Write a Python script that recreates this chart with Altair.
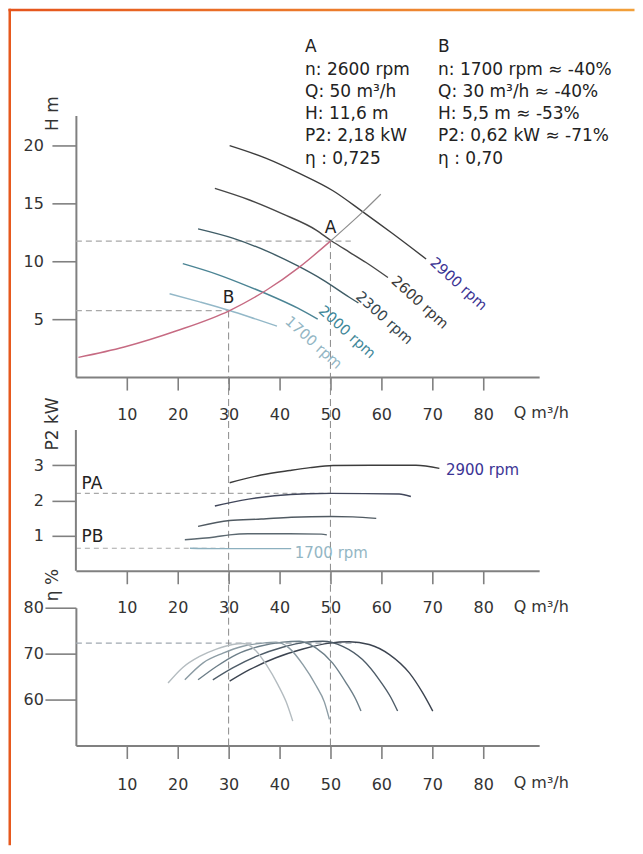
import altair as alt
import pandas as pd

FONT = "DejaVu Sans"
INK = "#333333"
AXIS_GRAY = "#808080"

RPMS = ["2900", "2600", "2300", "2000", "1700"]

# ---------------- H-Q curves (m) ----------------
HQ_Q_2900 = [30.2, 37.4, 43.9, 50.5, 56.3, 62.2, 68.8]
HQ_H_2900 = [20.0, 18.9, 17.6, 16.1, 14.3, 12.4, 10.2]
HQ_Q_2600 = [27.3, 34.1, 40.6, 47.2, 50.1, 53.7, 57.0, 61.3]
HQ_H_2600 = [16.3, 15.3, 14.1, 12.7, 11.8, 10.8, 9.9, 8.6]
HQ_Q_2300 = [24.0, 30.8, 37.4, 43.6, 48.5, 53.7, 55.5]
HQ_H_2300 = [12.8, 12.0, 10.9, 9.6, 8.4, 6.9, 6.4]
HQ_Q_2000 = [21.0, 27.6, 34.1, 37.4, 43.6, 47.5]
HQ_H_2000 = [9.8, 8.9, 7.8, 7.2, 5.95, 5.0]
HQ_Q_1700 = [18.4, 24.3, 30.2, 35.4, 39.5]
HQ_H_1700 = [7.2, 6.5, 5.75, 5.0, 4.4]

# system curve
SYS_Q = [0.5, 9.5, 19.8, 30.2, 37.4, 43.9, 50.0]
SYS_H = [1.7, 2.6, 4.0, 5.75, 7.5, 9.5, 11.75]
SYS_Q_UP = [50.0, 56.3, 59.9]
SYS_H_UP = [11.75, 14.25, 15.8]

# operating points
PT_NAMES = ["A", "B"]
PT_Q = [50, 30]
PT_H = [11.75, 5.75]
PT_P = [2.2, 0.64]
PT_ETA = 72.3

# rpm label anchors on H panel
LAB_Q = [75.1, 67.5, 60.5, 53.2, 46.6]
LAB_H = [8.0, 6.4, 5.06, 3.84, 2.93]

# ---------------- P2-Q curves (kW) ----------------
PQ_Q_2900 = [30.2, 36.4, 42.0, 46.0, 50.5, 58.0, 66.8, 71.4]
PQ_P_2900 = [2.50, 2.72, 2.85, 2.93, 2.99, 3.0, 3.0, 2.91]
PQ_Q_2600 = [27.3, 32.5, 39.0, 45.5, 50.1, 63.5, 65.8]
PQ_P_2600 = [1.84, 2.0, 2.13, 2.19, 2.2, 2.18, 2.11]
PQ_Q_2300 = [24.0, 30.2, 36.4, 42.3, 50.1, 54.4, 59.0]
PQ_P_2300 = [1.26, 1.43, 1.47, 1.52, 1.54, 1.53, 1.49]
PQ_Q_2000 = [21.4, 27.3, 30.2, 33.8, 42.0, 48.2, 49.3]
PQ_P_2000 = [0.88, 0.96, 1.02, 1.05, 1.05, 1.04, 1.02]
PQ_Q_1700 = [22.4, 27.3, 35.0, 42.3]
PQ_P_1700 = [0.64, 0.63, 0.63, 0.63]

# ---------------- efficiency curves (%) ----------------
EQ_Q_1700 = [18.1, 21.0, 24.3, 27.6, 30.8, 32.8, 35.4, 37.4, 39.7, 41.3, 42.6]
EQ_E_1700 = [63.6, 67.0, 69.4, 71.0, 72.0, 72.2, 70.6, 67.6, 63.2, 59.5, 55.3]
EQ_Q_2000 = [21.4, 25.0, 28.9, 32.8, 36.7, 39.3, 41.9, 44.6, 47.2, 48.8, 49.8]
EQ_E_2000 = [64.3, 68.0, 70.1, 71.6, 72.3, 72.5, 71.2, 67.6, 63.0, 59.5, 55.7]
EQ_Q_2300 = [24.0, 27.6, 31.5, 36.1, 40.6, 43.9, 47.2, 50.4, 53.1, 55.0, 56.0]
EQ_E_2300 = [64.3, 67.2, 69.8, 71.6, 72.5, 72.7, 71.2, 68.0, 63.6, 60.0, 57.5]
EQ_Q_2600 = [26.9, 30.8, 35.4, 40.6, 45.2, 48.5, 52.4, 56.3, 59.6, 61.9, 63.2]
EQ_E_2600 = [64.3, 66.9, 69.4, 71.4, 72.5, 72.7, 71.6, 68.7, 64.3, 60.4, 57.5]
EQ_Q_2900 = [30.2, 34.1, 39.3, 44.6, 49.8, 53.7, 57.6, 61.6, 65.5, 68.1, 70.1]
EQ_E_2900 = [64.0, 66.5, 69.1, 71.0, 72.3, 72.6, 72.0, 69.8, 65.8, 61.5, 57.5]

X_TICKS = [10, 20, 30, 40, 50, 60, 70, 80]
H_TICKS = [5, 10, 15, 20]
P_TICKS = [1, 2, 3]
E_TICKS = [60, 70, 80]

A_LINES = ["A", "n: 2600 rpm", "Q: 50 m³/h", "H: 11,6 m", "P2: 2,18 kW", "η : 0,725"]
B_LINES = ["B", "n: 1700 rpm ≈ -40%", "Q: 30 m³/h ≈ -40%", "H: 5,5 m ≈ -53%",
           "P2: 0,62 kW ≈ -71%", "η : 0,70"]

# ---------------- styles ----------------
H_LINE_COLORS = ["#3d3d3d", "#474747", "#3f5c66", "#4b8494", "#93b8c8"]
H_LABEL_COLORS = ["#3b3494", "#3a3a3a", "#37474f", "#3f8799", "#93b6c4"]
P_LINE_COLORS = ["#3c3c3c", "#40465a", "#505a62", "#5b6870", "#8cb0bf"]
E_LINE_COLORS = ["#3c4450", "#4e5c68", "#6c7e88", "#8c9ca4", "#b4bcc0"]

W = 464
H1, H2, H3 = 262, 157, 138
GAP = 37
Q_DOMAIN = [0, 91]
H_DOMAIN = [0, 22.6]
P_TOP = 4.0
P_DOMAIN = [0, P_TOP + 16 / 35.25]
E_DOMAIN = [50, 80]

xscale = alt.Scale(domain=Q_DOMAIN, nice=False, zero=False)


def make_xaxis(pad):
    return alt.Axis(values=X_TICKS, title=None, grid=False, format="d", labelAngle=0,
                    tickSize=13, tickWidth=1.6, tickColor=AXIS_GRAY,
                    domainColor=AXIS_GRAY, domainWidth=2,
                    labelFont=FONT, labelFontSize=16, labelColor=INK, labelPadding=pad)


XA12 = make_xaxis(16)
XA3 = make_xaxis(18)


def X(f="Q", ax=XA12):
    return alt.X(f"{f}:Q", scale=xscale, axis=ax)


def yaxis(values, title, title_y, tick=24, pad=8.5, domain=True):
    return alt.Axis(values=values, title=title, grid=False, domain=domain,
                    domainColor=AXIS_GRAY, domainWidth=2,
                    tickSize=tick, tickWidth=1.6, tickColor=AXIS_GRAY,
                    labelFont=FONT, labelFontSize=16, labelColor=INK, labelPadding=pad,
                    titleFont=FONT, titleFontSize=17, titleFontWeight="normal",
                    titleColor=INK, titleAngle=270, titleAlign="left",
                    titleBaseline="middle", titleX=-23.3, titleY=title_y)


ys1 = alt.Scale(domain=H_DOMAIN, nice=False, zero=False)
ya1 = yaxis(H_TICKS, "H m", 15)
ys2 = alt.Scale(domain=P_DOMAIN, nice=False, zero=False)
ya2 = yaxis(P_TICKS, "P2 kW", 36, domain=False)
ys3 = alt.Scale(domain=E_DOMAIN, nice=False, zero=False)
ya3 = yaxis(E_TICKS, "η %", -7, tick=31, pad=1.5)


def Y1(f):
    return alt.Y(f"{f}:Q", scale=ys1, axis=ya1)


def Y2(f):
    return alt.Y(f"{f}:Q", scale=ys2, axis=ya2)


def Y3(f):
    return alt.Y(f"{f}:Q", scale=ys3, axis=ya3)


def curves_df(qs, vs, colors):
    rows = []
    for rpm, q, v, c in zip(RPMS, qs, vs, colors):
        for qi, vi in zip(q, v):
            rows.append({"rpm": rpm, "Q": qi, "V": vi, "c": c})
    return pd.DataFrame(rows)


one = alt.Data(values=[{}])

# ================= panel 1 : H =================
df_h = curves_df([HQ_Q_2900, HQ_Q_2600, HQ_Q_2300, HQ_Q_2000, HQ_Q_1700],
                 [HQ_H_2900, HQ_H_2600, HQ_H_2300, HQ_H_2000, HQ_H_1700], H_LINE_COLORS)
df_pts = pd.DataFrame({"name": PT_NAMES, "Q": PT_Q, "H": PT_H, "P": PT_P,
                       "zero": [0, 0]})

h_ref = alt.Chart(df_pts).mark_rule(color="#a8a8a8", strokeWidth=1.2, strokeDash=[6, 4]).encode(
    x=X("zero"), x2=alt.X2("xe:Q"), y=Y1("H")
).transform_calculate(xe="datum.Q + (datum.name == 'A' ? 4 : 0)")
v_ref1 = alt.Chart(df_pts).mark_rule(color="#8a8a8a", strokeWidth=1, strokeDash=[7, 4]).encode(
    x=X("Q"), y=Y1("H"), y2=alt.Y2("zero:Q"))

h_curves = alt.Chart(df_h).mark_line(strokeWidth=1.4, interpolate="monotone").encode(
    x=X("Q"), y=Y1("V"), color=alt.Color("c:N", scale=None), detail="rpm:N")

sys_red = alt.Chart(pd.DataFrame({"Q": SYS_Q, "H": SYS_H})).mark_line(
    color="#c66a82", strokeWidth=1.4, interpolate="monotone").encode(x=X("Q"), y=Y1("H"))
sys_up = alt.Chart(pd.DataFrame({"Q": SYS_Q_UP, "H": SYS_H_UP})).mark_line(
    color="#8e8e8e", strokeWidth=1.2, interpolate="monotone").encode(x=X("Q"), y=Y1("H"))

df_lab = pd.DataFrame({"Q": LAB_Q, "H": LAB_H, "t": [r + " rpm" for r in RPMS],
                       "c": H_LABEL_COLORS})
h_labels = alt.Chart(df_lab).mark_text(angle=42, font=FONT, fontSize=14.5,
                                       align="center", baseline="middle").encode(
    x=X("Q"), y=Y1("H"), text="t:N", color=alt.Color("c:N", scale=None))

pt_labels = alt.Chart(df_pts).mark_text(font=FONT, fontSize=17, color="#222",
                                        align="center", baseline="bottom", dy=-4).encode(
    x=X("Q"), y=Y1("H"), text="name:N")

txt_a = alt.Chart(one).mark_text(text=A_LINES, align="left", baseline="top", font=FONT,
                                 fontSize=17, lineHeight=22.3, color="#222").encode(
    x=alt.value(229.5), y=alt.value(-76.3))
txt_b = alt.Chart(one).mark_text(text=B_LINES, align="left", baseline="top", font=FONT,
                                 fontSize=17, lineHeight=22.3, color="#222").encode(
    x=alt.value(362.8), y=alt.value(-76.3))


def q_unit(h, ax=XA12, off=36):
    return alt.Chart(pd.DataFrame({"Q": [86]})).mark_text(
        text="Q m³/h", align="left", baseline="middle", font=FONT, fontSize=16,
        color=INK).encode(x=X("Q", ax), y=alt.value(h + off))


frame_left = alt.Chart(one).mark_rect(fill="#e6581d").encode(
    x=alt.value(-67.5), x2=alt.value(-65), y=alt.value(-107), y2=alt.value(731))
frame_top = alt.Chart(one).mark_rect(
    fill=alt.Gradient(gradient="linear", x1=0, x2=1, y1=0, y2=0,
                      stops=[alt.GradientStop(color="#e5541c", offset=0),
                             alt.GradientStop(color="#f2a03a", offset=1)])).encode(
    x=alt.value(-67.5), x2=alt.value(559.5), y=alt.value(-107), y2=alt.value(-104.3))

p1 = alt.layer(h_ref, v_ref1, h_curves, sys_red, sys_up, h_labels, pt_labels,
               txt_a, txt_b, q_unit(H1), frame_left, frame_top).properties(width=W, height=H1)

# ================= panel 2 : P2 =================
df_p = curves_df([PQ_Q_2900, PQ_Q_2600, PQ_Q_2300, PQ_Q_2000, PQ_Q_1700],
                 [PQ_P_2900, PQ_P_2600, PQ_P_2300, PQ_P_2000, PQ_P_1700], P_LINE_COLORS)
p_up = P_DOMAIN[1] + GAP / (H2 / (P_DOMAIN[1] - P_DOMAIN[0]))

p_ref = alt.Chart(df_pts).mark_rule(color="#a8a8a8", strokeWidth=1.2, strokeDash=[5, 4]).encode(
    x=X("zero"), x2=alt.X2("Q:Q"), y=Y2("P"))
v_ref2 = alt.Chart(df_pts).mark_rule(color="#8a8a8a", strokeWidth=1, strokeDash=[7, 4]).encode(
    x=X("Q"), y=Y2("zero"), y2=alt.Y2("top:Q")).transform_calculate(top=str(p_up))
p_axis = alt.Chart(pd.DataFrame({"a": [0], "b": [P_TOP]})).mark_rule(
    color=AXIS_GRAY, strokeWidth=2).encode(x=alt.value(0), y=Y2("a"), y2=alt.Y2("b:Q"))
p_curves = alt.Chart(df_p).mark_line(strokeWidth=1.4, interpolate="monotone").encode(
    x=X("Q"), y=Y2("V"), color=alt.Color("c:N", scale=None), detail="rpm:N")
p_pt_lab = alt.Chart(pd.DataFrame({"t": ["PA", "PB"], "Q": [1.1, 1.1], "P": [2.47, 0.97]})).mark_text(
    font=FONT, fontSize=17, color="#222", align="left", baseline="middle").encode(
    x=X("Q"), y=Y2("P"), text="t:N")
p_rpm = alt.Chart(pd.DataFrame({"t": ["2900 rpm", "1700 rpm"], "Q": [72.7, 43.0],
                                "P": [2.87, 0.51], "c": ["#3b3494", "#93b6c4"]})).mark_text(
    font=FONT, fontSize=15, align="left", baseline="middle").encode(
    x=X("Q"), y=Y2("P"), text="t:N", color=alt.Color("c:N", scale=None))

p2 = alt.layer(p_ref, v_ref2, p_axis, p_curves, p_pt_lab, p_rpm, q_unit(H2)).properties(
    width=W, height=H2)

# ================= panel 3 : efficiency =================
df_e = curves_df([EQ_Q_2900, EQ_Q_2600, EQ_Q_2300, EQ_Q_2000, EQ_Q_1700],
                 [EQ_E_2900, EQ_E_2600, EQ_E_2300, EQ_E_2000, EQ_E_1700], E_LINE_COLORS)
e_up = E_DOMAIN[0] + (H3 + GAP) / (H3 / (E_DOMAIN[1] - E_DOMAIN[0]))

e_ref = alt.Chart(pd.DataFrame({"a": [0], "b": [55], "e": [PT_ETA]})).mark_rule(
    color="#a0a8b0", strokeWidth=1.2, strokeDash=[6, 4]).encode(
    x=X("a", XA3), x2=alt.X2("b:Q"), y=Y3("e"))
v_ref3 = alt.Chart(df_pts).mark_rule(color="#8a8a8a", strokeWidth=1, strokeDash=[7, 4]).encode(
    x=X("Q", XA3), y=Y3("lo"), y2=alt.Y2("hi:Q")).transform_calculate(
    lo=str(E_DOMAIN[0]), hi=str(e_up))
e_curves = alt.Chart(df_e).mark_line(strokeWidth=1.4, interpolate="monotone").encode(
    x=X("Q", XA3), y=Y3("V"), color=alt.Color("c:N", scale=None), detail="rpm:N")

p3 = alt.layer(e_ref, v_ref3, e_curves, q_unit(H3, XA3, 38)).properties(width=W, height=H3)

chart = alt.vconcat(p1, p2, p3, spacing=GAP, bounds="flush").properties(
    padding=0, background="white").configure_view(stroke=None)

chart.save("out.html", embed_options={"renderer": "svg", "actions": False})
